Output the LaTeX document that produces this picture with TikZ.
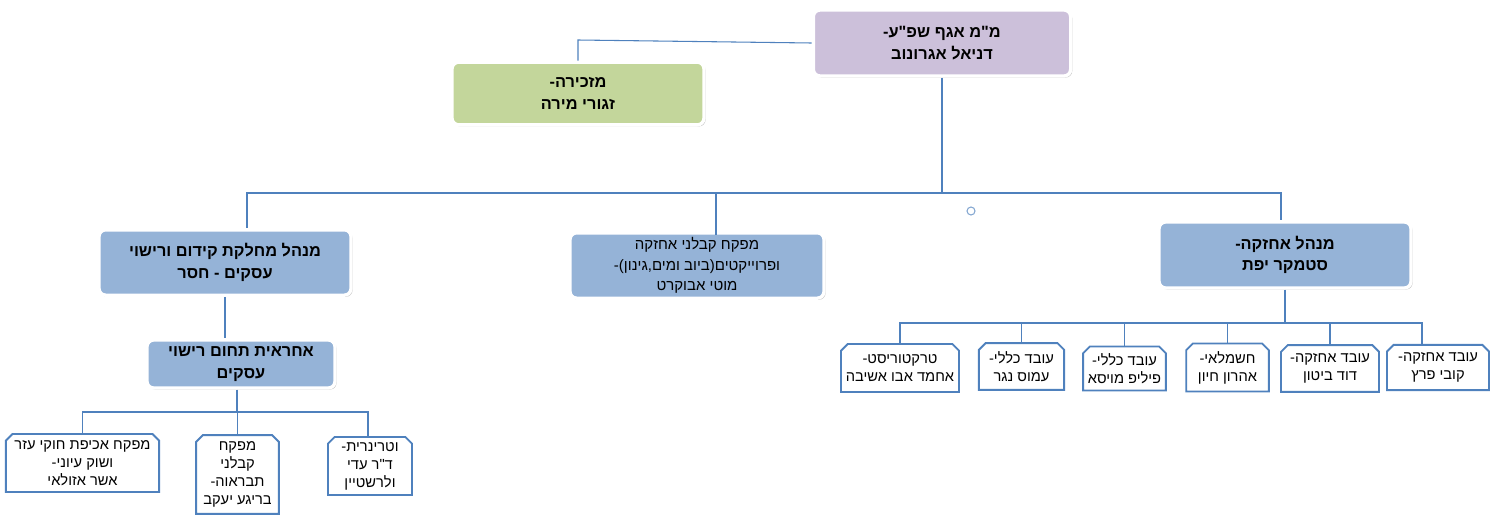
\documentclass[tikz,border=0pt]{standalone}
\usepackage{fontspec}
\setmainfont{Liberation Sans}[Script=Hebrew, Ligatures=TeXOff]
\TeXXeTstate=1
\usepackage{tikz}
\usetikzlibrary{shapes.misc, shadows}
\definecolor{purplebox}{RGB}{204,192,218}
\definecolor{greenbox}{RGB}{195,214,155}
\definecolor{bluebox}{RGB}{149,179,215}
\definecolor{lineblue}{RGB}{79,129,189}
\newcommand{\heb}[1]{\beginR #1\endR}
\tikzstyle{mainbox} = [rectangle, rounded corners=5pt, draw=white, line width=2.5pt, text centered, align=center, font=\bfseries\fontsize{12.25}{16}\selectfont, drop shadow={shadow xshift=1.2pt, shadow yshift=-1.2pt, opacity=0.45}]
\tikzstyle{staffbox} = [chamfered rectangle, chamfered rectangle corners={north east, north west}, chamfered rectangle sep=2.5pt, draw=lineblue, line width=1.4pt, fill=white, text centered, align=center, font=\fontsize{11}{13.5}\selectfont, inner sep=1pt]
\tikzstyle{conn} = [draw=lineblue, line width=0.8pt]

\begin{document}
\begin{tikzpicture}[x=0.75pt, y=-0.75pt]
	\useasboundingbox (0,0) rectangle (1498,518);
						\node (dir) [mainbox, fill=purplebox, minimum width=193pt, minimum height=49.5pt] at (942,43) {\heb{מ"מ אגף שפ"ע-}\\\heb{דניאל אגרונוב}};
						\node (sec) [mainbox, fill=greenbox, minimum width=189pt, minimum height=47pt] at (578,93.5) {\heb{מזכירה-}\\\heb{זגורי מירה}};
						\node (lic) [mainbox, fill=bluebox, minimum width=189pt, minimum height=49pt] at (225,262.5) {\heb{מנהל מחלקת קידום ורישוי}\\\heb{עסקים - חסר}};
						\node (sup) [mainbox, fill=bluebox, minimum width=190.5pt, minimum height=49pt, font=\fontsize{11.25}{15.5}\selectfont] at (697,265.5) {\heb{מפקח קבלני אחזקה}\\\heb{ופרוייקטים(ביוב ומים,גינון)-}\\\heb{מוטי אבוקרט}};
						\node (mnt) [mainbox, fill=bluebox, minimum width=189pt, minimum height=49.5pt] at (1285,255) {\heb{מנהל אחזקה-}\\\heb{סטמקר יפת}};
						\node (lic2) [mainbox, fill=bluebox, minimum width=141pt, minimum height=36pt] at (241,364) {\heb{אחראית תחום רישוי}\\\heb{עסקים}};
						\node (dot) [circle, draw=lineblue!70, line width=0.8pt, minimum size=6pt, inner sep=0pt] at (971,211) {};
						% maintenance staff
						\node (w1) [staffbox, minimum width=88.5pt, minimum height=36pt] at (900,368) {\heb{טרקטוריסט-}\\\heb{אחמד אבו אשיבה}};
						\node (w2) [staffbox, minimum width=64pt, minimum height=35pt] at (1021.5,366.5) {\heb{עובד כללי-}\\\heb{עמוס נגר}};
						\node (w3) [staffbox, minimum width=62pt, minimum height=33pt] at (1124.5,368.5) {\heb{עובד כללי-}\\\heb{פיליפ מויסא}};
						\node (w4) [staffbox, minimum width=62pt, minimum height=36pt] at (1227.5,367.5) {\heb{חשמלאי-}\\\heb{אהרון חיון}};
						\node (w5) [staffbox, minimum width=73.5pt, minimum height=35pt] at (1330,368.5) {\heb{עובד אחזקה-}\\\heb{דוד ביטון}};
						\node (w6) [staffbox, minimum width=76.5pt, minimum height=34pt] at (1438,367.5) {\heb{עובד אחזקה-}\\\heb{קובי פרץ}};
						% licensing staff
						\node (s1) [staffbox, minimum width=115pt, minimum height=43.5pt] at (82.5,463) {\heb{מפקח אכיפת חוקי עזר}\\\heb{ושוק עיוני-}\\\heb{אשר אזולאי}};
						\node (s2) [staffbox, minimum width=62pt, minimum height=59pt] at (237.5,474.5) {\heb{מפקח}\\\heb{קבלני}\\\heb{תבראוה-}\\\heb{בריגע יעקב}};
						\node (s3) [staffbox, minimum width=63pt, minimum height=43.5pt] at (370,466) {\heb{וטרינרית-}\\\heb{ד"ר עדי}\\\heb{ולרשטיין}};
						\coordinate (secbend) at (578,40);
						\coordinate (bus1) at (942,193);
						\coordinate (bus2) at (1285,323);
						\coordinate (bus3) at (237,412);
						\draw [conn] (dir.west) -- (secbend) -- (sec.north);
						\draw [conn] (dir.south) -- (bus1);
						\draw [conn] (bus1) -| ([xshift=16.5pt]lic.north);
						\draw [conn] (bus1) -| ([xshift=14.25pt, yshift=-3pt]sup.north);
						\draw [conn] (bus1) -| ([xshift=-3pt]mnt.north);
						\draw [conn] (mnt.south) -- (bus2);
						\draw [conn] (bus2) -| (w1.north);
						\draw [conn] (bus2) -| (w2.north);
						\draw [conn] (bus2) -| (w3.north);
						\draw [conn] (bus2) -| (w4.north);
						\draw [conn] (bus2) -| (w5.north);
						\draw [conn] (bus2) -| ([xshift=-12pt]w6.north);
						\draw [conn] (lic.south) -- (lic.south |- lic2.north);
						\draw [conn] ([xshift=-3pt]lic2.south) -- (bus3);
						\draw [conn] (bus3) -| (s1.north);
						\draw [conn] (bus3) -| (s2.north);
						\draw [conn] (bus3) -| ([xshift=-1.5pt]s3.north);
					\end{tikzpicture}
\end{document}
